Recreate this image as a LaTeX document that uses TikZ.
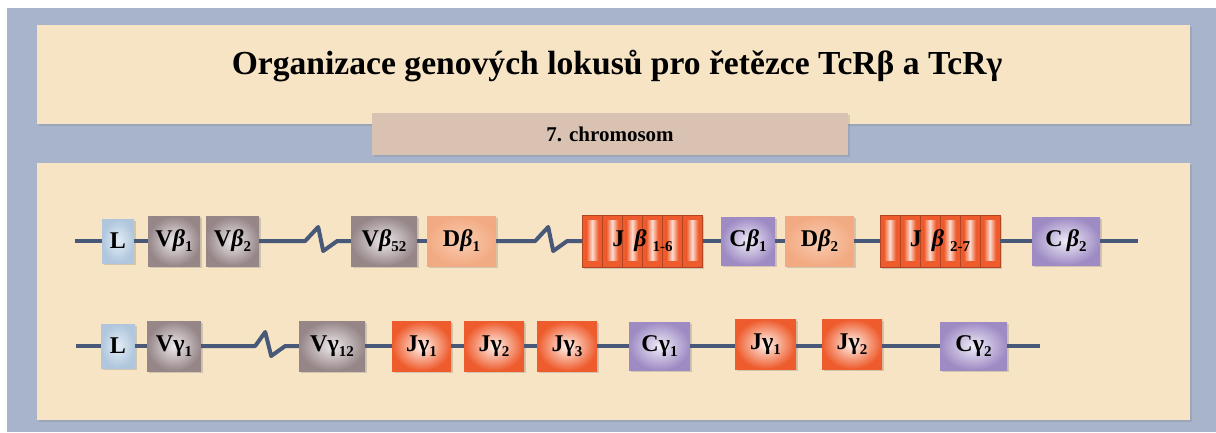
\documentclass[tikz,border=0pt]{standalone}
\usepackage{fontspec}
\setmainfont{Liberation Serif}
\usetikzlibrary{shadows}
\definecolor{bg}{HTML}{A8B4CC}
\definecolor{panel}{HTML}{F6E4C4}
\definecolor{chrom}{HTML}{D9C2B2}
\definecolor{dna}{HTML}{485878}
\definecolor{Lout}{HTML}{AFC6DD}\definecolor{Lin}{HTML}{E4EDF5}
\definecolor{Vout}{HTML}{968688}\definecolor{Vin}{HTML}{EDE8EA}
\definecolor{Dout}{HTML}{F2AA82}\definecolor{Din}{HTML}{F9CDB2}
\definecolor{Jout}{HTML}{EE5B2C}\definecolor{Jin}{HTML}{FFF3EC}
\definecolor{Cout}{HTML}{9E8BC4}\definecolor{Cin}{HTML}{F0ECF7}
\newcommand{\gsub}[1]{\raisebox{-0.45ex}{\fontsize{15}{15}\selectfont #1}}
\newcommand{\bet}{{\itshape β}}
\begin{document}
\begin{tikzpicture}[x=1pt,y=-1pt,
  gene/.style={rectangle, inner sep=0pt, minimum height=50, font=\bfseries\fontsize{24}{24}\selectfont,
    drop shadow={shadow xshift=1.5pt, shadow yshift=-1.5pt, opacity=0.3}},
  Lgene/.style={gene, inner color=Lin, outer color=Lout, minimum height=44},
  Vgene/.style={gene, inner color=Vin, outer color=Vout},
  Dgene/.style={gene, inner color=Din, outer color=Dout},
  Jgene/.style={gene, inner color=Jin, outer color=Jout},
  Cgene/.style={gene, inner color=Cin, outer color=Cout, minimum height=48},
  Jgroup/.style={gene, fill=Jout, minimum width=120, minimum height=52},
  jseg/.style={fill=Jout, draw=Jout!75!black, line width=0.6pt},
  jstripe/.style={left color=Jout, right color=Jout, middle color=Jin!85!Jout},
  jlabel/.style={inner sep=0pt, font=\bfseries\fontsize{24}{24}\selectfont},
  dna/.style={draw=dna, line width=4pt, line join=round},
  panelbox/.style={fill=panel, drop shadow={shadow xshift=2pt, shadow yshift=-2pt, opacity=0.25}},
]
\useasboundingbox (0,0) rectangle (1216,432);
\fill[white] (0,0) rectangle (1216,432);
\fill[bg] (7,8) rectangle (1216,432);
% panels
\path[panelbox] (37,25) rectangle (1190,124);
\path[panelbox] (37,163) rectangle (1190,420);
\node[anchor=base, font=\bfseries\fontsize{33.6}{34}\selectfont] (title) at (617,74)
  {Organizace genových lokusů pro řetězce TcRβ a TcRγ};
\node[fill=chrom, minimum width=476, minimum height=42, inner sep=0pt,
  drop shadow={shadow xshift=2pt, shadow yshift=-2pt, opacity=0.25},
  font=\bfseries\fontsize{21}{21}\selectfont] (chrom) at (610,134) {7. chromosom};

% ---------- row 1 (beta) ----------
\coordinate (r1s) at (75,241);
\coordinate (r1e) at (1138,241);
\node[Lgene, minimum width=32] (Lb) at (118,241) {L};
\node[Vgene, minimum width=52] (Vb1) at (174,241) {V\bet\gsub{1}};
\node[Vgene, minimum width=53] (Vb2) at (232.5,241) {V\bet\gsub{2}};
\node[Vgene, minimum width=66] (Vb52) at (384,241) {V\bet\gsub{52}};
\node[Dgene, minimum width=69] (Db1) at (461.5,241) {D\bet\gsub{1}};
\node[Jgroup] (Jb16) at (642.5,241) {};
\foreach \i in {0,...,5}{
  \path[jseg] ([xshift={\i*20}]Jb16.north west) rectangle ++(20,52);
  \path[jstripe] ([xshift={\i*20+4}, yshift=-6]Jb16.north west) rectangle ++(12,40);}
\node[jlabel] at (Jb16) {J\,~\bet~\gsub{1-6}};
\node[Cgene, minimum width=54] (Cb1) at (748,241) {C\bet\gsub{1}};
\node[Dgene, minimum width=69] (Db2) at (819.5,241) {D\bet\gsub{2}};
\node[Jgroup] (Jb27) at (940,241) {};
\foreach \i in {0,...,5}{
  \path[jseg] ([xshift={\i*20}]Jb27.north west) rectangle ++(20,52);
  \path[jstripe] ([xshift={\i*20+4}, yshift=-6]Jb27.north west) rectangle ++(12,40);}
\node[jlabel] at (Jb27) {J\,~\bet~\gsub{2-7}};
\node[Cgene, minimum width=68] (Cb2) at (1066,241) {C\,\bet\gsub{2}};

\draw[dna] (r1s) -- (Lb);
\draw[dna] (Lb) -- (Vb1);
\draw[dna] (Vb2.east) -- ++(46,0) -- ++(13,-14) -- ++(5,24) -- ++(14,-10) -- (Vb52.west);
\draw[dna] (Vb52) -- (Db1);
\draw[dna] (Db1.east) -- ++(39,0) -- ++(13,-14) -- ++(5,24) -- ++(14,-10) -- (Jb16.west);
\draw[dna] (Jb16) -- (Cb1);
\draw[dna] (Cb1) -- (Db2);
\draw[dna] (Db2) -- (Jb27);
\draw[dna] (Jb27) -- (Cb2);
\draw[dna] (Cb2) -- (r1e);

% ---------- row 2 (gamma) ----------
\coordinate (r2s) at (76,346);
\coordinate (r2e) at (1040,346);
\node[Lgene, minimum width=34] (Lg) at (118,346) {L};
\node[Vgene, minimum width=54] (Vg1) at (174,346) {Vγ\gsub{1}};
\node[Vgene, minimum width=66] (Vg12) at (332,346) {Vγ\gsub{12}};
\node[Jgene, minimum width=59] (Jg1) at (421.5,346) {Jγ\gsub{1}};
\node[Jgene, minimum width=60] (Jg2) at (494,346) {Jγ\gsub{2}};
\node[Jgene, minimum width=60] (Jg3) at (567,346) {Jγ\gsub{3}};
\node[Cgene, minimum width=61] (Cg1) at (659.5,346) {Cγ\gsub{1}};
\node[Jgene, minimum width=61] (Jg1b) at (765.5,344) {Jγ\gsub{1}};
\node[Jgene, minimum width=60] (Jg2b) at (852,344) {Jγ\gsub{2}};
\node[Cgene, minimum width=67] (Cg2) at (973.5,346) {Cγ\gsub{2}};

\draw[dna] (r2s) -- (Lg);
\draw[dna] (Lg) -- (Vg1);
\draw[dna] (Vg1.east) -- ++(54,0) -- ++(10,-14) -- ++(6,24) -- ++(14,-10) -- (Vg12.west);
\draw[dna] (Vg12) -- (Jg1);
\draw[dna] (Jg1) -- (Jg2);
\draw[dna] (Jg2) -- (Jg3);
\draw[dna] (Jg3) -- (Cg1);
\draw[dna] (Cg1.east) -- (Jg1b.west|-Cg1.east);
\draw[dna] (Jg1b.east|-Cg1.east) -- (Jg2b.west|-Cg1.east);
\draw[dna] (Jg2b.east|-Cg1.east) -- (Cg2.west);
\draw[dna] (Cg2) -- (r2e);
\end{tikzpicture}
\end{document}
